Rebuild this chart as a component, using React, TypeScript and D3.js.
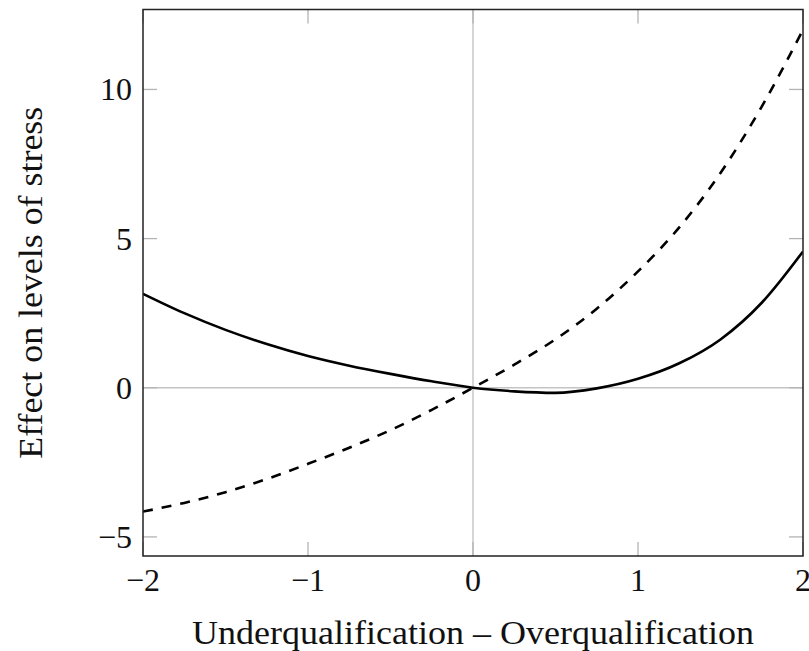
import React from "react";
import * as d3 from "d3";

const xValues = [-2, -1.75, -1.5, -1.25, -1, -0.75, -0.5, -0.25, 0, 0.25, 0.5, 0.75, 1, 1.25, 1.5, 1.75, 2];
const solidValues = [3.15, 2.5, 1.94, 1.465, 1.065, 0.74, 0.465, 0.215, 0, -0.12, -0.17, -0.02, 0.3, 0.82, 1.62, 2.85, 4.57];
const dashedValues = [-4.15, -3.86, -3.5, -3.06, -2.55, -2.01, -1.42, -0.74, 0, 0.775, 1.625, 2.65, 3.9, 5.375, 7.2, 9.425, 12.0];
const xTicks = [-2, -1, 0, 1, 2];
const yTicks = [-5, 0, 5, 10];
const xDomain = [-2, 2];
const yDomain = [-5.64, 12.68];
const xLabel = "Underqualification – Overqualification";
const yLabel = "Effect on levels of stress";

const W = 809, H = 651;
const L = 143, R = 803, T = 9.5, B = 556;
const FONT = "'Liberation Serif', 'Times New Roman', serif";

const fmt = (v: number) => (v < 0 ? "\u2212" + Math.abs(v) : String(v));

export default function App() {
  const x = d3.scaleLinear().domain(xDomain).range([L, R]);
  const y = d3.scaleLinear().domain(yDomain).range([B, T]);
  const line = d3
    .line<number>()
    .x((_, i) => x(xValues[i]))
    .y((d) => y(d))
    .curve(d3.curveMonotoneX);
  const tickLen = 14;
  const tickColor = "#b4b4b4";
  return (
    <svg width={W} height={H} style={{ position: "absolute", left: 0, top: 0, background: "#fff" }}>
      <defs>
        <clipPath id="plot">
          <rect x={L} y={T} width={R - L} height={B - T} />
        </clipPath>
      </defs>
      {/* zero grid lines */}
      <line x1={x(0)} x2={x(0)} y1={T} y2={B} stroke="#c4c4c4" strokeWidth={1.4} />
      <line x1={L} x2={R} y1={y(0)} y2={y(0)} stroke="#c4c4c4" strokeWidth={1.4} />
      {/* ticks */}
      {xTicks.map((t) => (
        <g key={"xt" + t}>
          <line x1={x(t)} x2={x(t)} y1={B} y2={B - tickLen} stroke={tickColor} strokeWidth={1.3} />
          <line x1={x(t)} x2={x(t)} y1={T} y2={T + tickLen} stroke={tickColor} strokeWidth={1.3} />
          <text x={x(t)} y={591} textAnchor="middle" fontFamily={FONT} fontSize={32} fill="#111">
            {fmt(t)}
          </text>
        </g>
      ))}
      {yTicks.map((t) => (
        <g key={"yt" + t}>
          <line x1={L} x2={L + tickLen} y1={y(t)} y2={y(t)} stroke={tickColor} strokeWidth={1.3} />
          <line x1={R} x2={R - tickLen} y1={y(t)} y2={y(t)} stroke={tickColor} strokeWidth={1.3} />
          <text x={132} y={y(t) + 11} textAnchor="end" fontFamily={FONT} fontSize={32} fill="#111">
            {fmt(t)}
          </text>
        </g>
      ))}
      {/* curves */}
      <g clipPath="url(#plot)">
        <path d={line(solidValues) || ""} fill="none" stroke="#000" strokeWidth={2.6} />
        <path d={line(dashedValues) || ""} fill="none" stroke="#000" strokeWidth={2.6} strokeDasharray="10,9" />
      </g>
      {/* frame */}
      <rect x={L} y={T} width={R - L} height={B - T} fill="none" stroke="#222" strokeWidth={1.5} />
      {/* axis labels */}
      <text x={(L + R) / 2} y={644} textAnchor="middle" fontFamily={FONT} fontSize={33} fill="#111"
        textLength={562} lengthAdjust="spacingAndGlyphs">
        {xLabel}
      </text>
      <text transform={`translate(42, ${(T + B) / 2}) rotate(-90)`} textAnchor="middle" fontFamily={FONT}
        fontSize={33} fill="#111" textLength={352} lengthAdjust="spacingAndGlyphs">
        {yLabel}
      </text>
    </svg>
  );
}
